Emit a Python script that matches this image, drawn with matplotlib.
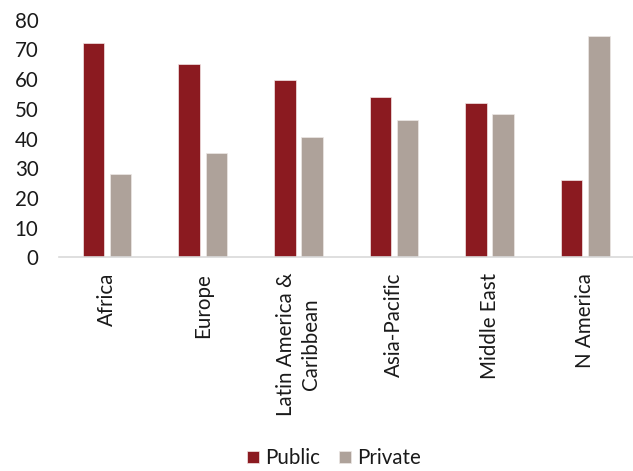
import matplotlib
matplotlib.use("Agg")
import matplotlib.pyplot as plt
import numpy as np

categories = ["Africa", "Europe", "Latin America &\nCaribbean", "Asia-Pacific", "Middle East", "N America"]
public = [72.2, 65.1, 59.7, 53.9, 52.1, 26.0]
private = [28.1, 35.2, 40.5, 46.3, 48.3, 74.4]
yticks = [0, 10, 20, 30, 40, 50, 60, 70, 80]

plt.rcParams['font.family'] = ['Lato', 'DejaVu Sans']

fig = plt.figure(figsize=(6.33, 4.71), dpi=100)
ax = fig.add_axes([0.0937, 0.4533, 0.9063, 0.5051])

x = np.arange(len(categories))
w = 0.225
off = 0.142
ax.bar(x - off, public, w, color="#8B1A20", edgecolor="#f3e6e6", linewidth=0.5, label="Public")
ax.bar(x + off, private, w, color="#AEA29A", edgecolor="#ece8e5", linewidth=0.5, label="Private")

fs = 14.8
ax.set_xlim(-0.5, len(categories) - 0.5)
ax.set_ylim(0, 80)
ax.set_yticks(yticks)
ax.set_yticklabels([str(v) for v in yticks], fontsize=fs, color="#1a1a1a")
ax.set_xticks(x)
ax.set_xticklabels(categories, rotation=90, fontsize=fs, color="#1a1a1a", va="top", ha="center",
                   multialignment="center", linespacing=1.32)
ax.tick_params(axis="y", length=0, pad=15)
ax.tick_params(axis="x", length=0, pad=11)
for s in ["top", "right", "left"]:
    ax.spines[s].set_visible(False)
ax.spines["bottom"].set_color("#D9D9D9")
ax.spines["bottom"].set_linewidth(1.2)

leg = fig.legend(loc="center", bbox_to_anchor=(0.527, 0.027), ncol=2, frameon=False,
                 fontsize=fs, handlelength=0.58, handleheight=0.58, handletextpad=0.3,
                 columnspacing=0.92)
for t in leg.get_texts():
    t.set_color("#1a1a1a")

fig.savefig("out.png", dpi=100)
